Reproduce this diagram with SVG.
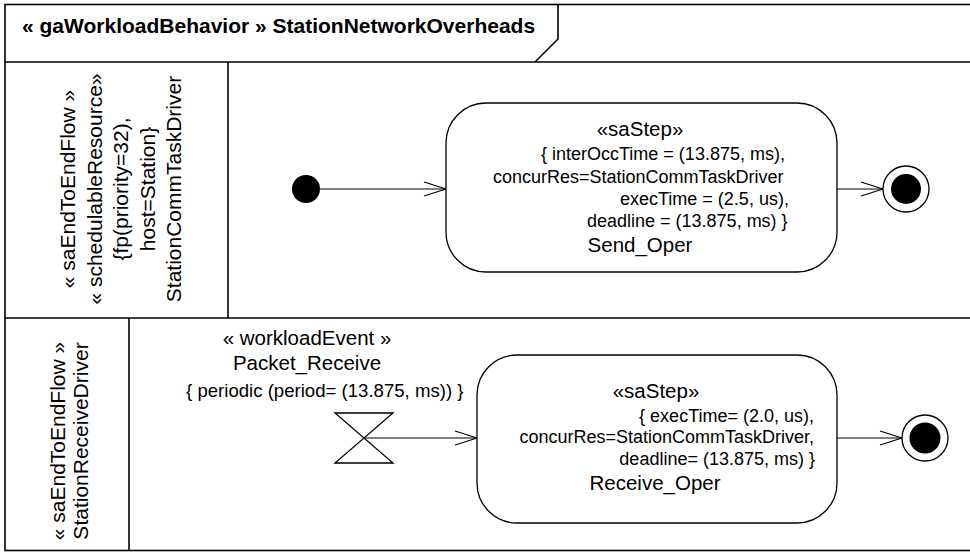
<svg xmlns="http://www.w3.org/2000/svg" width="970" height="552" viewBox="0 0 970 552">
<style>
.frame{fill:none;stroke:#000;stroke-width:1.6}
.node{fill:#fff;stroke:#000;stroke-width:1.3}
.edge{fill:none;stroke:#000;stroke-width:1.2}
.t{font-family:"Liberation Sans",Arial,sans-serif;fill:#000}
.title{font-size:21px;font-weight:bold}
.lane{font-size:21px;text-anchor:middle}
.hd{font-size:20.5px;text-anchor:middle}
.bd{font-size:18px}
</style>
<defs>
<marker id="open" viewBox="0 0 24 16" refX="23" refY="8" markerWidth="24" markerHeight="16" orient="auto" markerUnits="userSpaceOnUse">
<path d="M1,1 L23,8 L1,15" fill="none" stroke="#000" stroke-width="1.2"/>
</marker>
</defs>
<rect width="970" height="552" fill="#fff"/>
<g id="frame">
<rect class="frame" x="5" y="4.5" width="970" height="546"/>
<path class="frame" d="M558,4.5 L558,39 L535,62"/>
<line class="frame" x1="5" y1="62" x2="970" y2="62"/>
<line class="frame" x1="5" y1="318" x2="970" y2="318"/>
<line class="frame" x1="228" y1="62" x2="228" y2="318"/>
<line class="frame" x1="129" y1="318" x2="129" y2="550.5"/>
<text class="t title" x="22" y="33">« gaWorkloadBehavior » StationNetworkOverheads</text>
</g>
<g id="lane1-label">
<text class="t lane" transform="translate(75,189) rotate(-90)">« saEndToEndFlow »</text>
<text class="t lane" transform="translate(101.5,189) rotate(-90)">« schedulableResource»</text>
<text class="t lane" transform="translate(128,189) rotate(-90)">{fp(priority=32),</text>
<text class="t lane" transform="translate(154.5,189) rotate(-90)">host=Station}</text>
<text class="t lane" transform="translate(181,189) rotate(-90)">StationCommTaskDriver</text>
</g>
<g id="lane2-label">
<text class="t lane" transform="translate(65,441) rotate(-90)">« saEndToEndFlow »</text>
<text class="t lane" transform="translate(88,441) rotate(-90)">StationReceiveDriver</text>
</g>
<g id="connectors">
<line class="edge" x1="320" y1="189" x2="446" y2="189" marker-end="url(#open)"/>
<line class="edge" x1="837" y1="189" x2="883" y2="189" marker-end="url(#open)"/>
<line class="edge" x1="364" y1="438" x2="477" y2="438" marker-end="url(#open)"/>
<line class="edge" x1="837" y1="438" x2="902" y2="438" marker-end="url(#open)"/>
</g>
<g id="initial1">
<circle cx="306" cy="189" r="14" fill="#000"/>
</g>
<g id="send-oper">
<rect class="node" x="446" y="103" width="391" height="169" rx="40" ry="40"/>
<text class="t hd" x="640" y="136">«saStep»</text>
<text class="t bd" x="541" y="160">{ interOccTime = (13.875, ms),</text>
<text class="t bd" x="493" y="183">concurRes=StationCommTaskDriver</text>
<text class="t bd" x="620" y="205">execTime = (2.5, us),</text>
<text class="t bd" x="587" y="227">deadline = (13.875, ms) }</text>
<text class="t hd" x="640" y="252">Send_Oper</text>
</g>
<g id="final1">
<circle class="node" cx="906" cy="189" r="23"/>
<circle cx="906" cy="189" r="15" fill="#000"/>
</g>
<g id="packet-receive">
<path class="node" d="M335,413 L393,413 L335,463 L393,463 Z" fill="none"/>
<text class="t hd" x="307" y="345">« workloadEvent »</text>
<text class="t hd" x="307" y="370">Packet_Receive</text>
<text class="t bd" x="186" y="397" style="font-size:18.6px">{ periodic (period= (13.875, ms)) }</text>
</g>
<g id="receive-oper">
<rect class="node" x="477" y="355" width="360" height="168" rx="40" ry="40"/>
<text class="t hd" x="656" y="398">«saStep»</text>
<text class="t bd" x="814" y="422" text-anchor="end">{ execTime= (2.0, us),</text>
<text class="t bd" x="814" y="443" text-anchor="end">concurRes=StationCommTaskDriver,</text>
<text class="t bd" x="815" y="465" text-anchor="end">deadline= (13.875, ms) }</text>
<text class="t hd" x="655" y="490">Receive_Oper</text>
</g>
<g id="final2">
<circle class="node" cx="925" cy="438" r="23"/>
<circle cx="925" cy="438" r="15.5" fill="#000"/>
</g>
</svg>
